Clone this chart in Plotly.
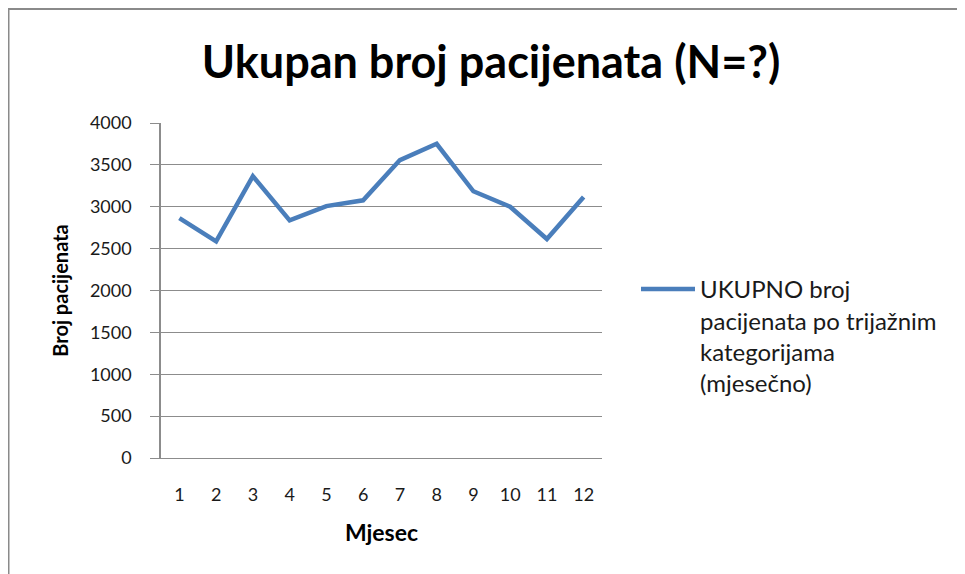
import plotly.graph_objects as go

months = [1, 2, 3, 4, 5, 6, 7, 8, 9, 10, 11, 12]
month_labels = ["1", "2", "3", "4", "5", "6", "7", "8", "9", "10", "11", "12"]
patients = [2865, 2587, 3365, 2837, 3008, 3077, 3557, 3752, 3185, 3000, 2615, 3117]
y_ticks = [0, 500, 1000, 1500, 2000, 2500, 3000, 3500, 4000]

series_name = "UKUPNO broj<br>pacijenata po trijažnim<br>kategorijama<br>(mjesečno)"
title_text = "Ukupan broj pacijenata (N=?)"

FONT = "Lato, 'Open Sans', sans-serif"
GRID = "#8c8c8c"

fig = go.Figure()
fig.add_trace(go.Scatter(
    x=months, y=patients, mode="lines", name=series_name,
    line=dict(color="#4a7ebb", width=4.5),
))

# page body has an 8px margin; figure coordinates are screen - 8
W, H = 957, 566
L, R, T, B = 153, 363, 115, 116
pw, ph = W - L - R, H - T - B

def px(x):
    return (x - L) / pw

def py(y):
    return (H - B - y) / ph

fig.update_layout(
    width=W, height=H,
    margin=dict(l=L, r=R, t=T, b=B),
    paper_bgcolor="white", plot_bgcolor="white",
    font=dict(family=FONT, color="#1a1a1a", size=18),
    title=dict(text="<b>" + title_text + "</b>", x=px(483), xanchor="center",
               xref="paper", y=1 - 54 / H, yanchor="middle", yref="container",
               font=dict(size=45, color="#000000", family=FONT)),
    showlegend=True,
    legend=dict(x=px(628), y=py(259), xanchor="left", yanchor="top",
                font=dict(size=24, color="#1a1a1a"), valign="top",
                itemwidth=54, bgcolor="rgba(0,0,0,0)", tracegroupgap=0),
    xaxis=dict(
        range=[0.5, 12.5], tickmode="array", tickvals=months, ticktext=month_labels,
        showgrid=False, zeroline=False, showline=True, linecolor=GRID, linewidth=1,
        ticks="", ticklabelstandoff=20,
        title=dict(text="<b>Mjesec</b>", font=dict(size=23, color="#000000"), standoff=21),
        fixedrange=True,
    ),
    yaxis=dict(
        range=[0, 4000], tickmode="array", tickvals=y_ticks,
        showgrid=True, gridcolor=GRID, gridwidth=1, zeroline=False,
        showline=True, linecolor=GRID, linewidth=1.5,
        ticks="outside", ticklen=9, tickcolor=GRID, ticklabelstandoff=15,
        title=dict(text="<b>Broj pacijenata</b>", font=dict(size=20, color="#000000"), standoff=16),
        fixedrange=True,
    ),
)

# outer chart border (extends past the visible window on the right and bottom)
fig.add_shape(type="rect", xref="paper", yref="paper",
              x0=px(0.5), x1=px(1000), y0=py(620), y1=py(1),
              line=dict(color="#8a8a8a", width=2), fillcolor="rgba(0,0,0,0)", layer="below")

fig.write_html("out.html")
